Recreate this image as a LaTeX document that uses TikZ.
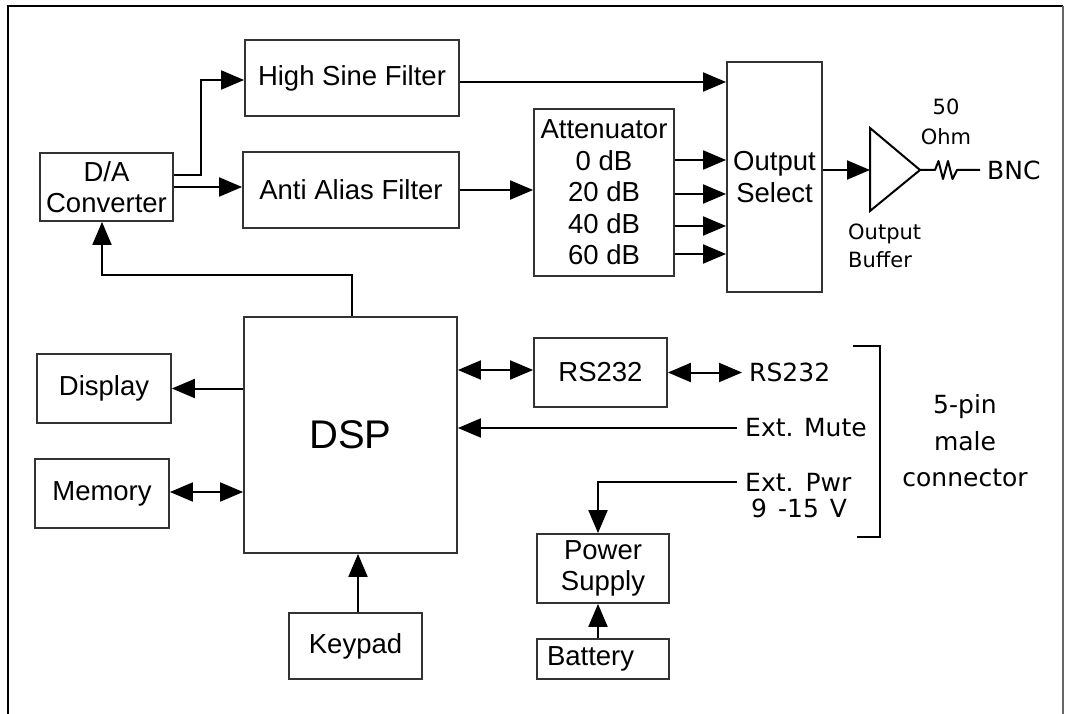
\documentclass[tikz,border=0pt]{standalone}
\usepackage{fontspec}
\setmainfont{Liberation Sans}
\newfontfamily\geneva{DejaVu Sans}
\usetikzlibrary{arrows.meta,calc}
\begin{document}
\begin{tikzpicture}[x=1pt,y=-1pt,
  box/.style={draw=black!80, line width=1.8pt, inner sep=0pt, align=center, font=\fontsize{27.5}{31.5}\selectfont},
  con/.style={line width=2pt, -{Triangle[length=23pt,width=19pt]}},
  dcon/.style={line width=2pt, {Triangle[length=23pt,width=19pt]}-{Triangle[length=23pt,width=19pt]}},
  plain/.style={line width=2pt},
  lbl/.style={font=\geneva\fontsize{25}{30}\selectfont, inner sep=0pt},
  small/.style={font=\geneva\fontsize{21}{28}\selectfont, inner sep=0pt}]
\useasboundingbox (0,0) rectangle (1065,714);
% frame
\coordinate (fbl) at (8,714);
\coordinate (ftl) at (8,6);
\coordinate (ftr) at (1063,6);
\coordinate (fbr) at (1063,714);
\draw[line width=2.2pt] (fbl) -- (ftl) -- (ftr);
\draw[line width=1.6pt, black!60] (ftr) -- (fbr);

% boxes
\node[box, minimum width=133pt, minimum height=68pt] (da) at (106.5,187) {D/A\\Converter};
\node[box, minimum width=214pt, minimum height=76pt] (hsf) at (352,78) {\raisebox{-3pt}{High Sine Filter}};
\node[box, minimum width=216pt, minimum height=76pt] (aaf) at (351,190) {Anti Alias Filter};
\node[box, minimum width=140pt, minimum height=167pt] (att) at (604,192.5) {Attenuator\\0 dB\\20 dB\\40 dB\\60 dB};
\node[box, minimum width=95pt, minimum height=230pt] (osel) at (774.5,177) {Output\\Select};
\node[box, minimum width=213pt, minimum height=236pt, font=\fontsize{40}{46}\selectfont] (dsp) at (350.5,435) {DSP};
\node[box, minimum width=134pt, minimum height=69pt] (disp) at (104,388.5) {Display};
\node[box, minimum width=134pt, minimum height=69pt] (mem) at (102,493.5) {Memory};
\node[box, minimum width=133pt, minimum height=66pt] (key) at (355.5,646) {Keypad};
\node[box, minimum width=133pt, minimum height=69pt] (rs) at (600.5,372.5) {RS232};
\node[box, minimum width=132pt, minimum height=69pt] (ps) at (603,568.5) {Power\\Supply};
\node[box, minimum height=40pt, inner xsep=10pt, text width=112pt, align=left] (bat) at (603,659) {Battery};

% labels
\node[lbl, anchor=west, inner xsep=7pt] (rs232t) at (742,372.5) {RS232};
\node[lbl, anchor=west, inner xsep=8pt] (mute) at (737,428) {Ext. Mute};
\node[lbl, anchor=west, inner xsep=8pt] (pwr) at (737,482) {Ext.\hspace{12pt}Pwr};
\node[lbl, anchor=west] (volt) at (751,508) {9\hspace{11pt}-15\hspace{11pt}V};
\node[lbl, align=center, font=\geneva\fontsize{25}{36.5}\selectfont] (conn) at (965,441) {5-pin\\male\\connector};
\node[small, align=left, anchor=west] (obuf) at (848,246) {Output\\Buffer};
\node[small, align=center, font=\geneva\fontsize{21}{30}\selectfont] (ohm) at (946,122) {50\\Ohm};
\node[lbl, anchor=west, inner xsep=7pt] (bnc) at (980,170) {BNC};

% D/A outputs
\draw[con] ($(da.east)+(0,-12)$) -- ++(27,0) |- ($(hsf.west)+(0,2)$);
\draw[con] (da.east) -- (da.east -| aaf.west);
% filters
\coordinate (h1) at ($(hsf.east)+(0,4)$);
\draw[con] (h1) -- (h1 -| osel.west);
\draw[con] (aaf.east) -- (aaf.east -| att.west);
% attenuator outputs
\coordinate (a1) at ($(att.east)+(0,-32.5)$);
\coordinate (a2) at ($(att.east)+(0,1.5)$);
\coordinate (a3) at ($(att.east)+(0,33.5)$);
\coordinate (a4) at ($(att.east)+(0,61.5)$);
\draw[con] (a1) -- (a1 -| osel.west);
\draw[con] (a2) -- (a2 -| osel.west);
\draw[con] (a3) -- (a3 -| osel.west);
\draw[con] (a4) -- (a4 -| osel.west);
% output buffer
\coordinate (bin) at (870,170);
\coordinate (bout) at (920,170);
\coordinate (btop) at (870,128);
\coordinate (bbot) at (870,211);
\coordinate (o1) at ($(osel.east)+(0,-7)$);
\draw[con] (o1) -- (bin);
\draw[plain, line join=miter] (btop) -- (bout) -- (bbot) -- cycle;
\coordinate (r0) at (935,170);
\coordinate (r5) at (957,170);
\draw[plain, line join=round] (bout) -- (r0) -- (938.5,161) -- (943,179) -- (948,161) -- (952.5,179) -- (r5) -- (bnc.west);
% DSP to D/A
\draw[con] ($(dsp.north)+(1.5,0)$) -- ++(0,-41) -| ($(da.south)+(-4.5,0)$);
% DSP left
\draw[con] (disp.east -| dsp.west) -- (disp.east);
\draw[dcon] ($(mem.east)+(0,-1.5)$) -- ($(mem.east -| dsp.west)+(0,-1.5)$);
% keypad
\coordinate (k1) at ($(key.north)+(2.5,0)$);
\draw[con] (k1) -- (k1 |- dsp.south);
% RS232
\coordinate (s1) at ($(rs.west)+(0,-2.5)$);
\draw[dcon] (s1 -| dsp.east) -- (s1);
\draw[dcon] (rs.east) -- (rs.east -| rs232t.west);
% Ext mute
\draw[con] (mute.west) -- (mute.west -| dsp.east);
% Ext power
\coordinate (p1) at ($(ps.north)+(-5,0)$);
\draw[con] (pwr.west) -| (p1);
\coordinate (p2) at ($(bat.north)+(-5,0)$);
\draw[con] (p2) -- (p2 |- ps.south);
% bracket
\coordinate (bt1) at (853,346);
\coordinate (bt2) at (880,346);
\coordinate (bb2) at (880,537);
\coordinate (bb1) at (857,537);
\draw[plain] (bt1) -- (bt2) -- (bb2) -- (bb1);
\end{tikzpicture}
\end{document}
